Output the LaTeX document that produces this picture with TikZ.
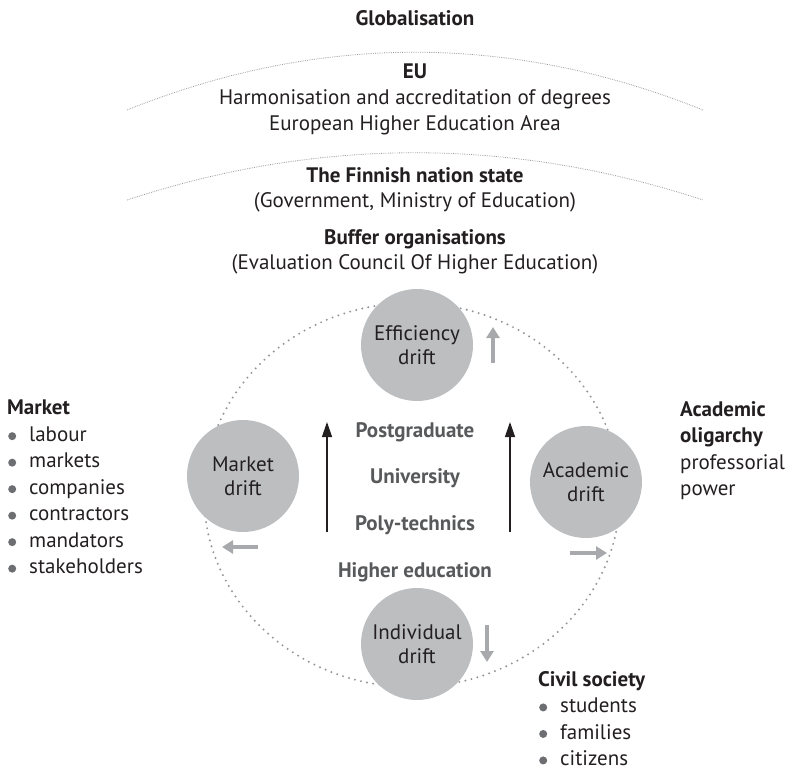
\documentclass[tikz,border=0pt]{standalone}
\usepackage{fontspec}
\setmainfont{PT Sans}
\usetikzlibrary{arrows.meta}
\definecolor{driftgrey}{RGB}{188,190,192}
\definecolor{arrowgrey}{RGB}{167,169,172}
\definecolor{levelgrey}{RGB}{88,89,91}
\definecolor{textdark}{RGB}{35,31,32}
\definecolor{bulletgrey}{RGB}{109,110,113}
\definecolor{dotgrey}{RGB}{147,149,152}

% grey dot in front of a list entry
\newcommand{\dotitem}{\hspace{1pt}\tikz[baseline=-0.5ex]\fill[bulletgrey] (0,0) circle (4pt);\hspace{13pt}}

\begin{document}
\begin{tikzpicture}[x=1pt, y=-1pt,
    drift/.style={circle, fill=driftgrey, minimum size=112pt, inner sep=0pt, align=center, text=textdark, font=\fontsize{21}{24}\selectfont},
    level/.style={font=\fontsize{21}{24}\selectfont\bfseries, text=levelgrey},
    layer/.style={align=center, text=textdark, font=\fontsize{21}{26}\selectfont},
    actor/.style={align=left, anchor=north west, inner sep=0pt, text=textdark, font=\fontsize{21}{26.5}\selectfont},
    rim/.style={dotgrey, line width=2.2pt, line cap=round, dash pattern=on 0pt off 6.2pt},
    horizon/.style={dotgrey, line width=0.8pt, dash pattern=on 0.7pt off 1.1pt},
    rise/.style={-{Triangle[length=15pt,width=10pt]}, line width=1.3pt, textdark},
    push/.style={-{Triangle[length=11pt,width=13pt]}, line width=3.5pt, arrowgrey}]
    \useasboundingbox (0,0) rectangle (793,773);

    % Outer layers
    \node[layer, font=\fontsize{21}{26}\selectfont\bfseries] (glob) at (415,18) {Globalisation};
    \node[layer] (eu) at (415,99) {\textbf{EU}\\Harmonisation and accreditation of degrees\\European Higher Education Area};
    \node[layer, font=\fontsize{21}{25}\selectfont] (state) at (415,190) {\textbf{The Finnish nation state}\\(Government, Ministry of Education)};
    \node[layer, font=\fontsize{21}{25}\selectfont] (buffer) at (415,252) {\textbf{Buffer organisations}\\(Evaluation Council Of Higher Education)};

    \draw[horizon] (127,110) .. controls (319,33) and (511,33) .. (703,110);
    \draw[horizon] (127,200) .. controls (319,137) and (511,137) .. (703,200);

    % Ring of drifts
    \draw[rim] (412,495) ellipse [x radius=208, y radius=192];

    \node[drift] (eff) at (417,345) {Efficiency\\drift};
    \node[drift] (mkt) at (243,476) {Market\\drift};
    \node[drift] (aca) at (586,482) {Academic\\drift};
    \node[drift] (ind) at (417,644) {Individual\\drift};

    % Levels of higher education
    \node[level] (post) at (415,432) {Postgraduate};
    \node[level] (univ) at (415,478) {University};
    \node[level] (poly) at (415,525) {Poly-technics};
    \node[level] (he) at (415,572) {Higher education};

    \coordinate (riseLa) at (327,532);
    \coordinate (riseLb) at (327,422);
    \coordinate (riseRa) at (510,532);
    \coordinate (riseRb) at (510,422);
    \draw[rise] (riseLa) -- (riseLb);
    \draw[rise] (riseRa) -- (riseRb);

    % Direction of each drift
    \coordinate (effA) at (493,363);
    \coordinate (effB) at (493,327);
    \coordinate (mktA) at (258,547);
    \coordinate (mktB) at (222,547);
    \coordinate (acaA) at (570,553);
    \coordinate (acaB) at (607,553);
    \coordinate (indA) at (487,625);
    \coordinate (indB) at (487,662);
    \draw[push] (effA) -- (effB);
    \draw[push] (mktA) -- (mktB);
    \draw[push] (acaA) -- (acaB);
    \draw[push] (indA) -- (indB);

    % Actors around the system
    \node[actor] (market) at (7,400) {\textbf{Market}\\\dotitem labour\\\dotitem markets\\\dotitem companies\\\dotitem contractors\\\dotitem mandators\\\dotitem stakeholders};
    \node[actor] (oligarchy) at (680,401) {\textbf{Academic}\\\textbf{oligarchy}\\professorial\\power};
    \node[actor] (civil) at (538,671) {\textbf{Civil society}\\\dotitem students\\\dotitem families\\\dotitem citizens};
\end{tikzpicture}
\end{document}
